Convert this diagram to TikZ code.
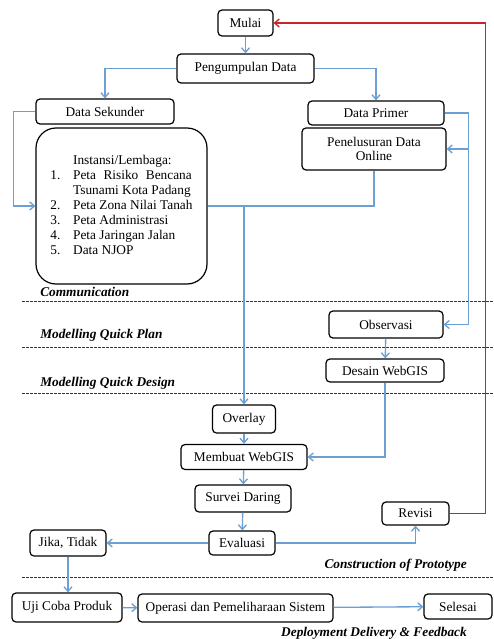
\documentclass[tikz,border=0pt]{standalone}
\usepackage{fontspec}
\setmainfont{Liberation Serif}
\usepackage{tikz}
\usetikzlibrary{arrows.meta, calc, positioning}

\definecolor{flowblue}{RGB}{108,160,212}
\definecolor{flowred}{RGB}{200,36,48}

\tikzset{
  stepbox/.style = {
    draw,
    rectangle,
    rounded corners = 3pt,
    line width = 0.9pt,
    anchor = center,
    inner sep = 1pt,
    font = \fontsize{10}{10.5}\selectfont,
  },
  wd/.style = {minimum width = #1*0.75pt},
  ht/.style = {minimum height = #1*0.75pt},
  flow/.style = {
    draw = flowblue,
    line width = 1pt,
    -{Straight Barb[length=3.5pt, width=6pt]},
  },
  back/.style = {flow, draw = flowred},
  phase/.style = {font = \fontsize{10}{12}\selectfont\bfseries\itshape, inner sep = 0pt},
  divider/.style = {draw = black!80, line width = 0.6pt, dash pattern = on 2pt off 1pt},
}

\begin{document}
\begin{tikzpicture}[x = 0.75pt, y = -0.75pt]
        \useasboundingbox (0,0) rectangle (493,639);

        % top of the flow
        \node [stepbox, wd = 55,  ht = 26] (mulai)  at (245.5,23)  {Mulai};
        \node [stepbox, wd = 137, ht = 29] (kumpul) at (245.5,68.5) {Pengumpulan Data};

        \node [stepbox, wd = 138, ht = 25] (sekunder) at (105,111.5) {Data Sekunder};
        \node [stepbox, wd = 136, ht = 24] (primer)   at (376,113)   {Data Primer};

        \node [stepbox, wd = 144, ht = 42, align = center] (telusur) at (374,149) {
          Penelusuran Data\\Online};

        \node [stepbox, wd = 171, ht = 156, rounded corners = 15pt,
               font = \fontsize{10}{11.25}\selectfont] (instansi) at (121.5,206) {
          \begin{tabular}{@{}p{17pt}@{}l@{}}
            & Instansi/Lembaga: \\
            1. & \makebox[89pt][s]{Peta Risiko Bencana} \\
               & Tsunami Kota Padang \\
            2. & Peta Zona Nilai Tanah \\
            3. & Peta Administrasi \\
            4. & Peta Jaringan Jalan \\
            5. & Data NJOP \\
          \end{tabular}};

        % phase dividers
        \foreach \y in {301, 347, 393, 577} {
          \draw [divider] (22,\y) -- (493,\y);
        }
        \node [phase, anchor = west] (pcomm)   at (40,292) {Communication};
        \node [phase, anchor = west] (pplan)   at (40,335) {Modelling Quick Plan};
        \node [phase, anchor = west] (pdesign) at (40,383) {Modelling Quick Design};
        \node [phase, anchor = east] (pproto)  at (467,565) {Construction of Prototype};
        \node [phase, anchor = east] (pdeploy) at (467,633) {Deployment Delivery \& Feedback};

        % middle of the flow
        \node [stepbox, wd = 114, ht = 27] (observasi) at (386,324.5) {Observasi};
        \node [stepbox, wd = 118, ht = 23] (desain)    at (385,370.5) {Desain WebGIS};

        \node [stepbox, wd = 63,  ht = 28] (overlay) at (244,419)   {Overlay};
        \node [stepbox, wd = 126, ht = 25] (membuat) at (244,457)   {Membuat WebGIS};
        \node [stepbox, wd = 96,  ht = 27] (survei)  at (243,498.5) {Survei Daring};
        \node [stepbox, wd = 66,  ht = 24] (evaluasi) at (242,543)  {Evaluasi};

        \node [stepbox, wd = 76, ht = 26] (jika)   at (68,543)    {Jika, Tidak};
        \node [stepbox, wd = 67, ht = 23] (revisi) at (415.5,513.5) {Revisi};

        % bottom row
        \node [stepbox, wd = 110, ht = 29] (uji)     at (67,607.5)   {Uji Coba Produk};
        \node [stepbox, wd = 195, ht = 28] (operasi) at (235.5,608)  {Operasi dan Pemeliharaan Sistem};
        \node [stepbox, wd = 68,  ht = 25] (selesai) at (458,606.5)  {Selesai};

        % connectors
        \draw [flow] (mulai) to (kumpul);
        \draw [flow] (kumpul.west) -| (sekunder.north);
        \draw [flow] (kumpul.east) -| (primer.north);

        \draw [flow] (sekunder.west) -- ++(-22,0) |- (instansi.west);

        \coordinate (primer turn) at ($(primer.east)+(24,0)$);
        \draw [flow] (primer.east) -- (primer turn) |- (observasi.east);
        \draw [flow] (primer turn |- telusur.east) -- (telusur.east);

        \draw [draw = flowblue, line width = 1pt] (instansi.east) -| (telusur.south);
        \coordinate (merge) at (overlay.north |- instansi.east);
        \draw [flow] (merge) -- (overlay.north);

        \draw [flow] (observasi) to (desain);
        \draw [flow] (desain.south) |- (membuat.east);

        \draw [flow] (overlay) to (membuat);
        \draw [flow] (membuat) to (survei);
        \draw [flow] (survei) to (evaluasi);

        \draw [flow] (evaluasi) to (jika);
        \draw [flow] (evaluasi.east) -| (revisi.south);
        \draw [back] (revisi.east) -- ++(36,0) |- (mulai.east);

        \draw [flow] (jika.south) -- (jika.south |- uji.north);
        \draw [flow] (uji) to (operasi);
        \draw [flow] (operasi) to (selesai);
      \end{tikzpicture}
\end{document}
